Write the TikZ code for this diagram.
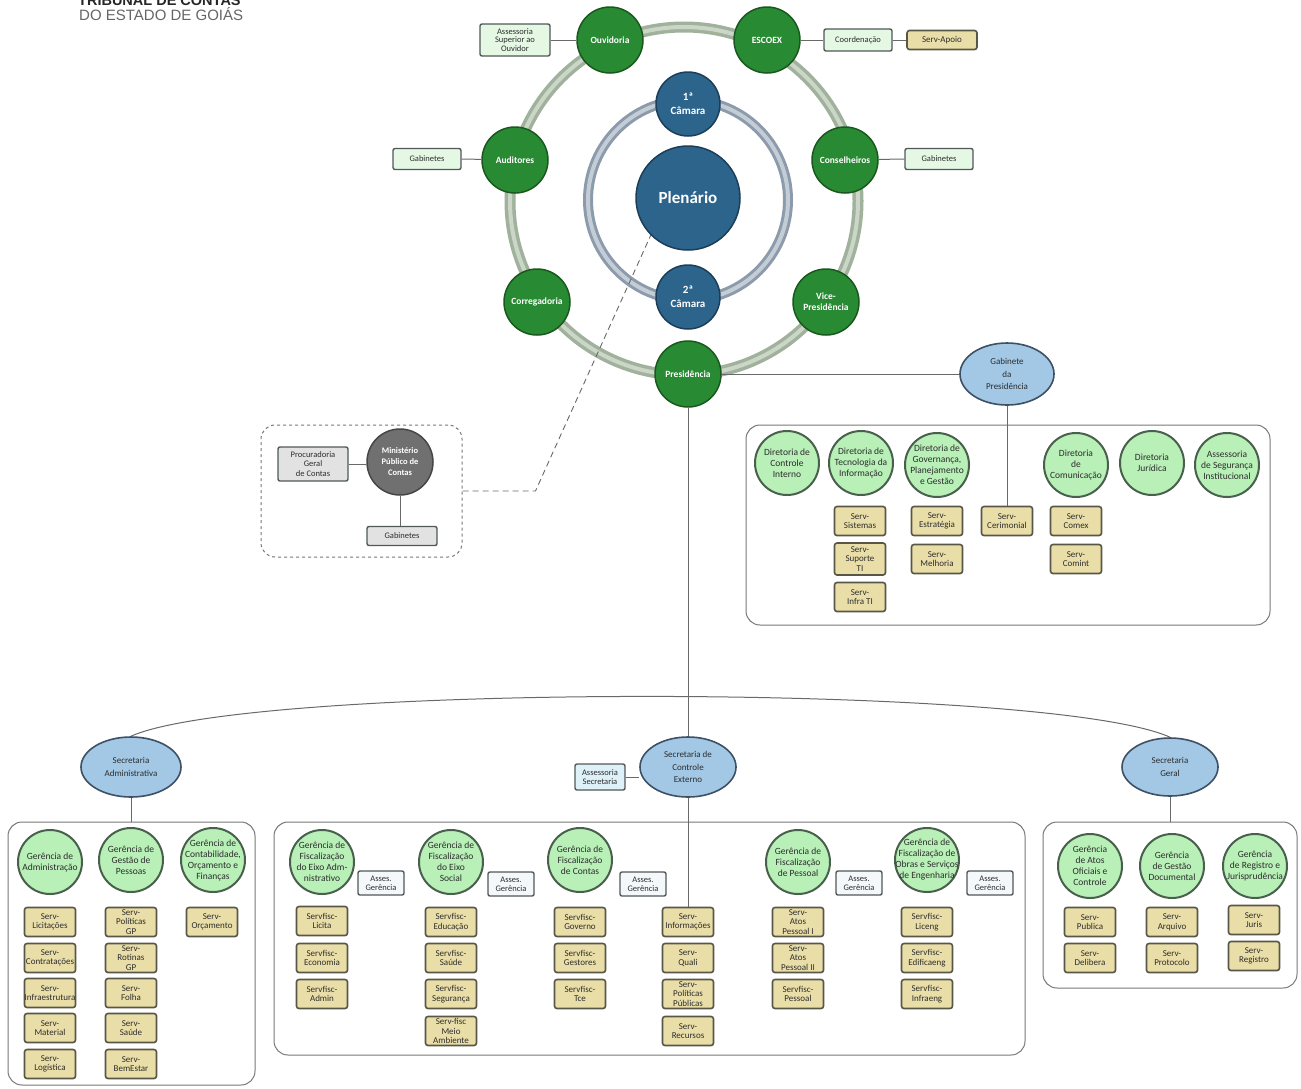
\documentclass[tikz,border=0pt]{standalone}
\usepackage{fontspec}
\setmainfont{Carlito}
\newfontfamily\hdrfont{Liberation Sans}
\usetikzlibrary{shapes.geometric}
\definecolor{lineC}{RGB}{105,105,105}
\definecolor{tanF}{RGB}{234,222,168}
\definecolor{tanB}{RGB}{88,86,70}
\definecolor{txtC}{RGB}{45,45,45}
\definecolor{lgF}{RGB}{184,240,184}
\definecolor{lgB}{RGB}{72,96,76}
\definecolor{dgF}{RGB}{40,138,50}
\definecolor{dgB}{RGB}{26,88,32}
\definecolor{dbF}{RGB}{44,100,140}
\definecolor{dbB}{RGB}{28,62,88}
\definecolor{blF}{RGB}{162,200,230}
\definecolor{blB}{RGB}{62,80,100}
\definecolor{boxB}{RGB}{80,88,88}
\definecolor{pgF}{RGB}{228,248,228}
\definecolor{asF}{RGB}{244,248,250}
\definecolor{psF}{RGB}{222,240,248}
\definecolor{grpB}{RGB}{120,120,120}
\definecolor{ringG}{RGB}{160,178,156}
\definecolor{ringGl}{RGB}{204,214,200}
\definecolor{ringB}{RGB}{140,155,172}
\definecolor{ringBl}{RGB}{196,204,214}
\definecolor{mpF}{RGB}{112,112,112}
\definecolor{mpB}{RGB}{70,70,70}
\definecolor{gyF}{RGB}{226,226,226}
\newcommand\TB[3]{\node[tanb,label={[tt]center:{#3}}] (#1) at (#2) {};}
\newcommand\LG[3]{\node[lgc,label={[ct]center:{#3}}] (#1) at (#2) {};}
\newcommand\DG[3]{\node[dgc,label={[wt]center:{#3}}] (#1) at (#2) {};}
\begin{document}
\begin{tikzpicture}[x=1pt,y=-1pt,
 conn/.style={draw=lineC,line width=1pt},
 tanb/.style={draw=tanB,line width=1.6pt,fill=tanF,rounded corners=2.5pt,minimum width=51pt,minimum height=29pt,inner sep=0pt},
 tt/.style={font=\fontsize{9}{9.6}\selectfont,align=center,inner sep=0pt,text=txtC},
 ct/.style={font=\fontsize{9.5}{11}\selectfont,align=center,inner sep=0pt,text=txtC},
 wt/.style={font=\bfseries\fontsize{9.5}{11}\selectfont,align=center,inner sep=0pt,text=white},
 lgc/.style={circle,draw=lgB,line width=2pt,fill=lgF,minimum size=64pt,inner sep=0pt},
 dgc/.style={circle,draw=dgB,line width=1.5pt,fill=dgF,minimum size=66pt,inner sep=0pt},
 dbc/.style={circle,draw=dbB,line width=1.5pt,fill=dbF,minimum size=64pt,inner sep=0pt,text=white,align=center,font=\bfseries\fontsize{11}{14}\selectfont},
 ble/.style={ellipse,draw=blB,line width=1.6pt,fill=blF,minimum width=96pt,minimum height=60pt,inner sep=0pt,align=center,text=txtC,font=\fontsize{9}{12.5}\selectfont},
 pgb/.style={draw=boxB,line width=1.4pt,fill=pgF,rounded corners=2pt,inner sep=0pt,align=center,text=txtC,font=\fontsize{8.5}{8.8}\selectfont},
 asb/.style={draw=boxB,line width=1.4pt,fill=asF,rounded corners=2pt,minimum width=46pt,minimum height=24pt,inner sep=0pt,align=center,text=txtC,font=\fontsize{8.5}{9.2}\selectfont},
 grp/.style={draw=grpB,line width=1pt,rounded corners=14pt,inner sep=0pt},
]
\useasboundingbox[fill=white] (0,0) rectangle (1301,1088);

% header
\node[anchor=base west,inner sep=0pt,font=\hdrfont\bfseries\fontsize{14.5}{14.5}\selectfont,text=black!85] (h1) at (78,5) {TRIBUNAL DE CONTAS};
\node[anchor=base west,inner sep=0pt,font=\hdrfont\fontsize{15}{15}\selectfont,text=black!60] (h2) at (79,20) {DO ESTADO DE GOIÁS};

% group boxes
\node[grp,minimum width=524pt,minimum height=200pt] (rbox) at (1008,525) {};
\node[grp,dashed,draw=grpB,minimum width=201pt,minimum height=132pt] (mpbox) at (361.5,491) {};
\node[grp,minimum width=247pt,minimum height=263pt] (lbox) at (131.5,953.5) {};
\node[grp,minimum width=751pt,minimum height=233pt] (mbox) at (649.5,938.5) {};
\node[grp,minimum width=254pt,minimum height=166pt] (gbox) at (1170,905) {};

% rings
\draw[ringG,line width=11pt] (684,201) circle[radius=174];
\draw[ringGl,line width=4pt] (684,201) circle[radius=174];
\draw[ringB,line width=10pt] (688,200) circle[radius=100];
\draw[ringBl,line width=4pt] (688,200) circle[radius=100];

% centre
\node[dbc,minimum size=104pt,font=\bfseries\fontsize{17}{17}\selectfont] (plen) at (688,198) {Plenário};
\node[dbc] (cam1) at (688,104) {1ª\\Câmara};
\node[dbc] (cam2) at (688,297) {2ª\\Câmara};

% outer ring
\DG{ouv}{610,40}{Ouvidoria}
\DG{esc}{767,40}{ESCOEX}
\DG{aud}{515,160}{Auditores}
\DG{cons}{845,160}{Conselheiros}
\DG{corr}{537,302}{Corregadoria}
\DG{vice}{826,302}{Vice-\\Presidência}
\DG{pres}{688,374}{Presidência}

\node[pgb,minimum width=70pt,minimum height=32pt] (aso) at (515,40) {Assessoria\\Superior ao\\Ouvidor};
\node[pgb,minimum width=68pt,minimum height=22pt] (coord) at (858,40) {Coordenação};
\node[tanb,minimum width=70pt,minimum height=19pt,label={[tt]center:{Serv-Apoio}}] (sapo) at (942,40) {};
\node[pgb,minimum width=68pt,minimum height=21pt] (gabl) at (427,159) {Gabinetes};
\node[pgb,minimum width=68pt,minimum height=21pt] (gabr) at (939,159) {Gabinetes};
\draw[conn] (aso) -- (ouv);
\draw[conn] (esc) -- (coord);
\draw[conn] (coord) -- (sapo);
\draw[conn] (gabl.east) -- (aud);
\draw[conn] (cons) -- (gabr.west);

% Ministerio Publico
\node[circle,draw=mpB,line width=1.5pt,fill=mpF,minimum size=66pt,inner sep=0pt,text=white,align=center,font=\bfseries\fontsize{8.5}{11}\selectfont] (mp) at (400,462) {Ministério\\Público de\\Contas};
\node[draw=boxB,line width=1.4pt,fill=gyF,rounded corners=2pt,minimum width=70pt,minimum height=34pt,inner sep=0pt,align=center,text=txtC,font=\fontsize{8.5}{9.2}\selectfont] (proc) at (313,464) {Procuradoria\\Geral\\de Contas};
\node[draw=boxB,line width=1.4pt,fill=gyF,rounded corners=2pt,minimum width=70pt,minimum height=19pt,inner sep=0pt,text=txtC,font=\fontsize{8.5}{9}\selectfont] (mpgab) at (402,536) {Gabinetes};
\draw[conn] (proc.east) -- (proc.east -| mp.west);
\draw[conn] (mp.south) -- (mp.south |- mpgab.north);
\draw[lineC,line width=0.9pt,dash pattern=on 6pt off 4pt] (mpbox.east) -- ++(73,0) -- (plen.south west);

% Gabinete da Presidencia
\node[ble,minimum width=94pt,minimum height=62pt] (gabp) at (1007,374) {Gabinete\\da\\Presidência};
\draw[conn] (pres) -- (gabp);

\LG{dci}{787,463}{Diretoria de\\Controle\\Interno}
\LG{dti}{861,463}{Diretoria de\\Tecnologia da\\Informação}
\LG{dgov}{937,465}{Diretoria de\\Governança,\\Planejamento\\e Gestão}
\LG{dcom}{1076,465}{Diretoria\\de\\Comunicação}
\LG{djur}{1152,463}{Diretoria\\Jurídica}
\LG{aseg}{1227,465}{Assessoria\\de Segurança\\Institucional}

\TB{ssis}{860,521}{Serv-\\Sistemas}
\node[tanb,minimum height=32pt,label={[tt]center:{Serv-\\Suporte\\TI}}] (ssup) at (860,559) {};
\TB{sinfti}{860,597}{Serv-\\Infra TI}
\TB{sest}{937,521}{Serv-\\Estratégia}
\TB{smel}{937,559}{Serv-\\Melhoria}
\TB{scer}{1007,521}{Serv-\\Cerimonial}
\TB{scomex}{1076,521}{Serv-\\Comex}
\TB{scomint}{1076,559}{Serv-\\Comint}
\draw[conn] (gabp) -- (scer);

% Secretarias
\node[ble,minimum width=100pt] (sa) at (131,767) {Secretaria\\Administrativa};
\node[ble] (sce) at (688,767) {Secretaria de\\Controle\\Externo};
\node[ble,minimum height=58pt] (sg) at (1170,767) {Secretaria\\Geral};
\node[draw=boxB,line width=1.4pt,fill=psF,rounded corners=2pt,minimum width=50pt,minimum height=26pt,inner sep=0pt,align=center,text=txtC,font=\fontsize{8.5}{9}\selectfont] (asec) at (600,777) {Assessoria\\Secretaria};
\draw[conn] (asec.east) -- (asec.east -| sce.west);
\draw[conn] (pres) -- (sce);
\draw[conn] (sa.north) .. controls (250,683) and (1050,683) .. (sg.north);
\draw[conn] (sa.south) -- (sa.south |- lbox.north);
\draw[conn] (sg.south) -- (sg.south |- gbox.north);

% Secretaria Administrativa group
\LG{gadm}{50,862}{Gerência de\\Administração}
\LG{ggp}{131,860}{Gerência de\\Gestão de\\Pessoas}
\LG{gcof}{213,860}{Gerência de\\Contabilidade,\\Orçamento e\\Finanças}
\TB{slic}{50,922}{Serv-\\Licitações}
\TB{scon}{50,958}{Serv-\\Contratações}
\TB{sinfr}{50,993}{Serv-\\Infraestrutura}
\TB{smat}{50,1028}{Serv-\\Material}
\TB{slog}{50,1064}{Serv-\\Logística}
\TB{spgp}{131,922}{Serv-\\Políticas\\GP}
\TB{srgp}{131,958}{Serv-\\Rotinas\\GP}
\TB{sfol}{131,993}{Serv-\\Folha}
\TB{ssau}{131,1028}{Serv-\\Saúde}
\TB{sbem}{131,1064}{Serv-\\BemEstar}
\TB{sorc}{212,922}{Serv-\\Orçamento}

% Secretaria de Controle Externo group
\LG{gfa}{322,862}{Gerência de\\Fiscalização\\do Eixo Adm-\\nistrativo}
\LG{gfs}{451,862}{Gerência de\\Fiscalização\\do Eixo\\Social}
\LG{gfc}{580,860}{Gerência de\\Fiscalização\\de Contas}
\LG{gfp}{798,862}{Gerência de\\Fiscalização\\de Pessoal}
\LG{gfo}{927,860}{Gerência de\\Fiscalização de\\Obras e Serviços\\de Engenharia}
\node[asb] (as1) at (381,883) {Asses.\\Gerência};
\node[asb] (as2) at (511,884) {Asses.\\Gerência};
\node[asb] (as3) at (643,884) {Asses.\\Gerência};
\node[asb] (as4) at (859,883) {Asses.\\Gerência};
\node[asb] (as5) at (990,883) {Asses.\\Gerência};

\TB{sfli}{322,921}{Servfisc-\\Licita}
\TB{sfec}{322,958}{Servfisc-\\Economia}
\TB{sfad}{322,994}{Servfisc-\\Admin}
\TB{sfed}{451,922}{Servfisc-\\Educação}
\TB{sfsa}{451,958}{Servfisc-\\Saúde}
\TB{sfse}{451,994}{Servfisc-\\Segurança}
\TB{sfma}{451,1031}{Serv-fisc\\Meio\\Ambiente}
\TB{sfgo}{580,922}{Servfisc-\\Governo}
\TB{sfge}{580,958}{Servfisc-\\Gestores}
\TB{sftc}{580,994}{Servfisc-\\Tce}
\TB{sinf}{688,922}{Serv-\\Informações}
\TB{squa}{688,958}{Serv-\\Quali}
\TB{spp}{688,994}{Serv-\\Políticas\\Públicas}
\TB{srec}{688,1031}{Serv-\\Recursos}
\TB{sap1}{798,922}{Serv-\\Atos\\Pessoal I}
\TB{sap2}{798,958}{Serv-\\Atos\\Pessoal II}
\TB{sfpe}{798,994}{Servfisc-\\Pessoal}
\TB{sfle}{927,922}{Servfisc-\\Liceng}
\TB{sfee}{927,958}{Servfisc-\\Edificaeng}
\TB{sfie}{927,994}{Servfisc-\\Infraeng}
\draw[conn] (sce) -- (sinf);

% Secretaria Geral group
\LG{gao}{1090,866}{Gerência\\de Atos\\Oficiais e\\Controle}
\LG{ggd}{1172,866}{Gerência\\de Gestão\\Documental}
\LG{grj}{1255,866}{Gerência\\de Registro e\\Jurisprudência}
\TB{spub}{1090,922}{Serv-\\Publica}
\TB{sdel}{1090,958}{Serv-\\Delibera}
\TB{sarq}{1172,922}{Serv-\\Arquivo}
\TB{spro}{1172,958}{Serv-\\Protocolo}
\TB{sjur}{1254,920}{Serv-\\Juris}
\TB{sreg}{1254,956}{Serv-\\Registro}
\end{tikzpicture}
\end{document}
